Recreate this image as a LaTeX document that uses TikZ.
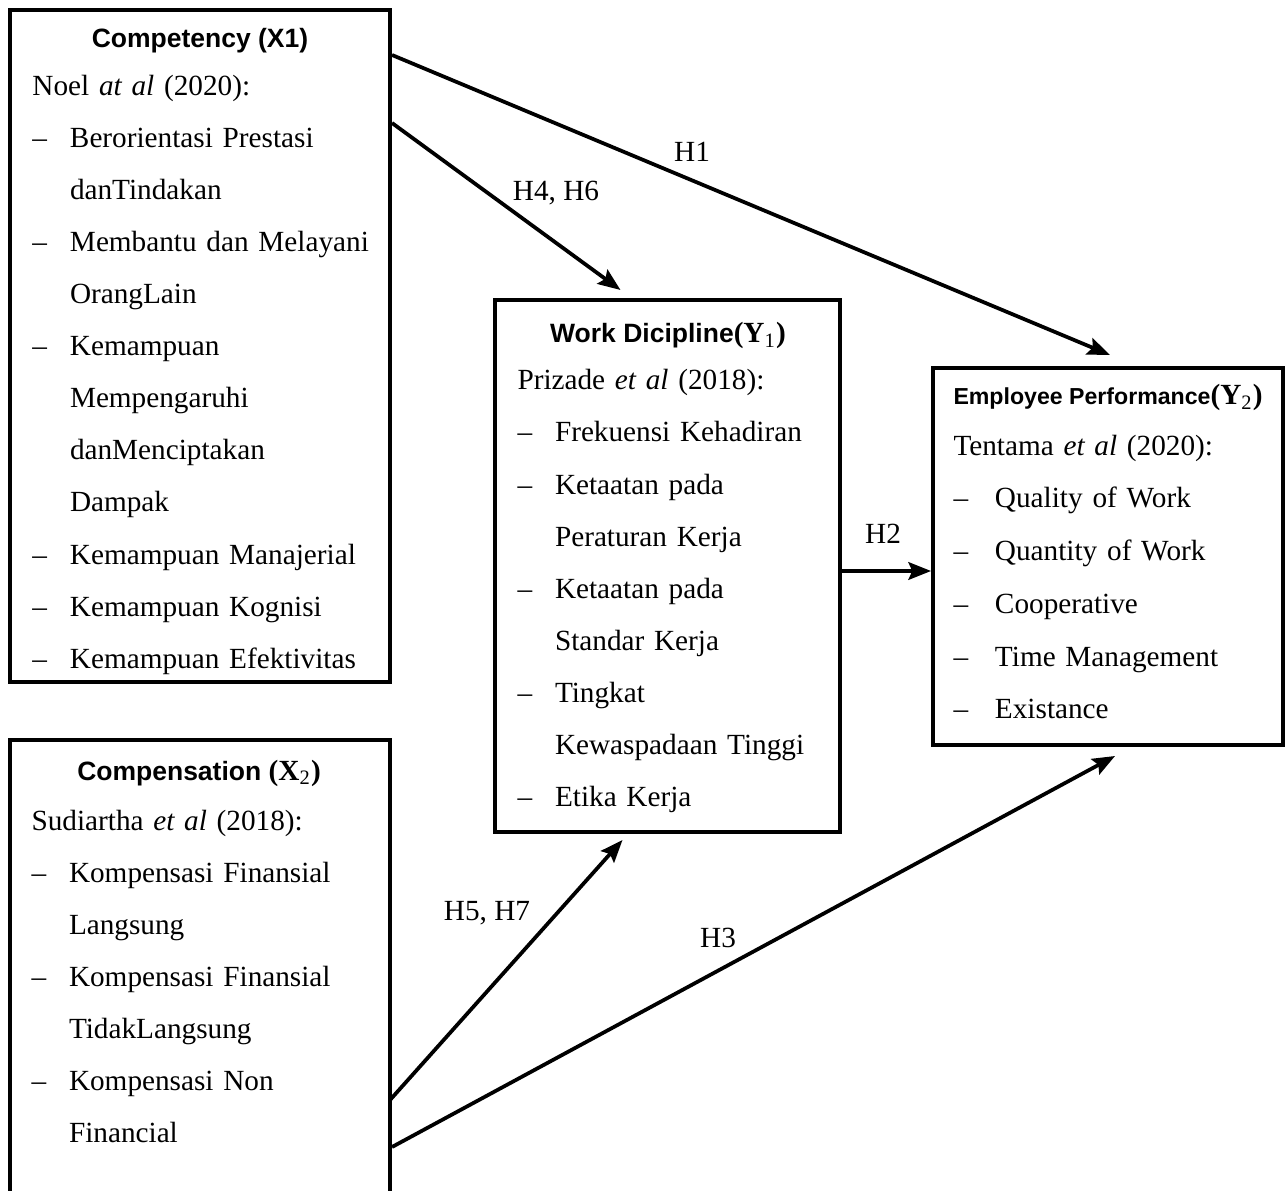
\documentclass[tikz,border=0pt]{standalone}
\usepackage{fontspec}
\setmainfont{Liberation Serif}
\setsansfont{Liberation Sans}
\usetikzlibrary{calc,arrows.meta}

\newcommand{\itemdash}{\makebox[15pt][l]{--}}
\newcommand{\itemgap}{\hspace*{15pt}}
\newcommand{\varsym}[2]{{\rmfamily\bfseries\fontsize{11.7}{14}\selectfont(#1{\mdseries\textsubscript{#2}})}}

\begin{document}
\begin{tikzpicture}[x=0.4pt,y=-0.4pt,
  box/.style={draw,line width=1.6pt,inner sep=0pt},
  head/.style={anchor=base,inner sep=0pt,font=\sffamily\bfseries\fontsize{10.6}{13}\selectfont},
  list/.style={anchor=base west,inner sep=0pt,text width=136pt,align=left,font=\fontsize{11.7}{20.8}\selectfont},
  lbl/.style={anchor=base,inner sep=0pt,font=\fontsize{11.7}{14}\selectfont},
  arr/.style={-{Stealth[length=9pt,width=7pt,inset=1.5pt]},line width=1.5pt}]
\useasboundingbox (0,0) rectangle (1285,1191);
% frames
\node[box,minimum width=152pt,minimum height=268.8pt] (x1) at (200,346) {};
\node[box,minimum width=152pt,minimum height=184pt] (x2) at (200,970) {};
\node[box,minimum width=138pt,minimum height=212.8pt] (y1) at (667.5,566) {};
\node[box,minimum width=140pt,minimum height=150.8pt] (y2) at (1108,556.5) {};
% titles
\node[head] (x1h) at (200,48) {Competency (X1)};
\node[head] (x2h) at (199,780) {Compensation \varsym{X}{2}};
\node[head] (y1h) at (668,343) {Work Dicipline\varsym{Y}{1}};
\node[head,anchor=base west,font=\sffamily\bfseries\fontsize{9.25}{12}\selectfont] (y2h) at (953,405) {Employee Performance\varsym{Y}{2}};
% indicators
\node[list] (x1l) at (32,96) {Noel \textit{at al} (2020):\\
  \itemdash Berorientasi Prestasi\\
  \itemgap danTindakan\\
  \itemdash Membantu dan Melayani\\
  \itemgap OrangLain\\
  \itemdash Kemampuan\\
  \itemgap Mempengaruhi\\
  \itemgap danMenciptakan\\
  \itemgap Dampak\\
  \itemdash Kemampuan Manajerial\\
  \itemdash Kemampuan Kognisi\\
  \itemdash Kemampuan Efektivitas};
\node[list] (x2l) at (31,830) {Sudiartha \textit{et al} (2018):\\
  \itemdash Kompensasi Finansial\\
  \itemgap Langsung\\
  \itemdash Kompensasi Finansial\\
  \itemgap TidakLangsung\\
  \itemdash Kompensasi Non\\
  \itemgap Financial};
\node[list] (y1l) at (517,390) {Prizade \textit{et al} (2018):\\
  \itemdash Frekuensi Kehadiran\\
  \itemdash Ketaatan pada\\
  \itemgap Peraturan Kerja\\
  \itemdash Ketaatan pada\\
  \itemgap Standar Kerja\\
  \itemdash Tingkat\\
  \itemgap Kewaspadaan Tinggi\\
  \itemdash Etika Kerja};
\node[list,font=\fontsize{11.7}{21.1}\selectfont] (y2l) at (953,455) {Tentama \textit{et al} (2020):\\
  \itemdash\hspace{1.6pt}Quality of Work\\
  \itemdash\hspace{1.6pt}Quantity of Work\\
  \itemdash\hspace{1.6pt}Cooperative\\
  \itemdash\hspace{1.6pt}Time Management\\
  \itemdash\hspace{1.6pt}Existance};
% hypotheses
\draw[arr] ($(x1.north east)+(0,47)$) -- ($(y2.north)+(2,-11)$);
\draw[arr] ($(x1.north east)+(0,115)$) -- ($(y1.north)+(-47,-8)$);
\draw[arr] ($(y1.east)+(0,5)$) -- ($(y2.west)+(0,14.5)$);
\draw[arr] ($(x2.east)+(-2,130)$) -- ($(y1.south)+(-45,6)$);
\draw[arr] ($(x2.east)+(0,177)$) -- ($(y2.south)+(7,9)$);
\node[lbl] (h1) at (692,162) {H1};
\node[lbl] (h46) at (556,201) {H4, H6};
\node[lbl] (h2) at (883,543) {H2};
\node[lbl] (h57) at (487,920) {H5, H7};
\node[lbl] (h3) at (718,947) {H3};
\end{tikzpicture}
\end{document}
